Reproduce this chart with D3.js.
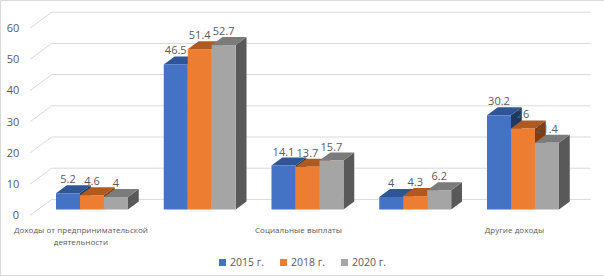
<!DOCTYPE html>
<html>
<head>
<meta charset="utf-8">
<script src="https://cdn.jsdelivr.net/npm/d3@7"></script>
<style>
html,body{margin:0;padding:0;background:#fff}
svg{display:block}
text{font-family:"Open Sans","Liberation Sans",sans-serif;fill:#595959}
</style>
</head>
<body>
<div id="chart"></div>
<script>
//Uses D3.V7
const categories = ["Доходы от предпринимательской деятельности","","Социальные выплаты","","Другие доходы"];
const years = ["2015 г.","2018 г.","2020 г."];
const values2015 = [5.2,46.5,14.1,4,30.2];
const values2018 = [4.6,51.4,13.7,4.3,26];
const values2020 = [4,52.7,15.7,6.2,21.4];
const yTicks = [0,10,20,30,40,50,60];
const legendX = [219,280,341];

const frontColors = ["#4472C4","#ED7D31","#A5A5A5"];
const topColors = ["#2F5597","#AE5A21","#7B7B7B"];
const sideColors = ["#203864","#843C0C","#595959"];

const width = 604, height = 276;
const series = [values2015,values2018,values2020];

const svg = d3.select("#chart").append("svg").attr("width",width).attr("height",height);

// frame
svg.append("path").attr("d","M0.5 276 V0.5 H604 M0 275.5 H604")
	.attr("fill","none").attr("stroke","#d9d9d9");

// scale for the bars' front face; walls are the same scale shifted by depth
const y = d3.scaleLinear().domain([0,60]).range([209.5,22.3]);
const x = d3.scaleBand().domain(d3.range(categories.length)).range([38.1,576.85]).paddingInner(0.332).paddingOuter(0.166);
const xBar = d3.scaleBand().domain([0,1,2]).range([0,x.bandwidth()]);

const wall = {dx:21.7, dy:-16};
const floor = {x:30, y:215.4};
const barDepth = {dx:10.8, dy:-8};
const wallY = v => y(v) + (floor.y - y(0)) + wall.dy;

// gridlines
const grid = svg.append("g").attr("fill","none").attr("stroke","#d9d9d9");
yTicks.forEach(v => {
	const y0 = wallY(v);
	grid.append("path").attr("d",`M${floor.x} ${y0-wall.dy} L${floor.x+wall.dx} ${y0} H590.7`);
});

// tick labels
svg.append("g").selectAll("text").data(yTicks).join("text")
	.attr("x",v => v===0 ? 16 : 13)
	.attr("y",v => wallY(v)-wall.dy)
	.attr("dy","0.35em")
	.attr("text-anchor","middle")
	.attr("font-size",11)
	.text(d => d);

// bars
const bars = svg.append("g");
categories.forEach((c,i) => {
	series.forEach((vals,s) => {
		const x0 = x(i) + xBar(s), w = xBar.bandwidth();
		const yt = y(vals[i]), yb = y(0);
		const dx = barDepth.dx, dy = barDepth.dy;
		const g = bars.append("g");
		g.append("path").attr("fill",sideColors[s])
			.attr("d",`M${x0+w} ${yt} l${dx} ${dy} V${yb+dy} L${x0+w} ${yb} Z`);
		g.append("path").attr("fill",topColors[s])
			.attr("d",`M${x0} ${yt} l${dx} ${dy} h${w} l${-dx} ${-dy} Z`);
		g.append("rect").attr("fill",frontColors[s])
			.attr("x",x0).attr("y",yt).attr("width",w).attr("height",yb-yt);
	});
});

// value labels on top of all bars
const labels = svg.append("g");
categories.forEach((c,i) => {
	series.forEach((vals,s) => {
		labels.append("text")
			.attr("x",x(i)+xBar(s)+xBar.bandwidth()/2)
			.attr("y",y(vals[i])-10)
			.attr("text-anchor","middle")
			.attr("font-size",11)
			.text(vals[i]);
	});
});

// category labels
const catLines = [["Доходы от предпринимательской","деятельности"],[],["Социальные выплаты"],[],["Другие доходы"]];
const catOffset = [-11,0,-9,0,-8.5];
const catG = svg.append("g");
catLines.forEach((lines,i) => {
	lines.forEach((line,k) => {
		catG.append("text")
			.attr("x",x(i)+x.bandwidth()/2+catOffset[i])
			.attr("y",233+k*12)
			.attr("text-anchor","middle")
			.attr("font-size",8)
			.attr("letter-spacing",0.05)
			.text(line);
	});
});

// legend
const legend = svg.append("g");
years.forEach((yr,s) => {
	legend.append("rect").attr("x",legendX[s]).attr("y",259).attr("width",7).attr("height",7).attr("fill",frontColors[s]);
	legend.append("text").attr("x",legendX[s]+11).attr("y",265.5)
		.attr("font-size",10.5).text(yr);
});
</script>
</body>
</html>
